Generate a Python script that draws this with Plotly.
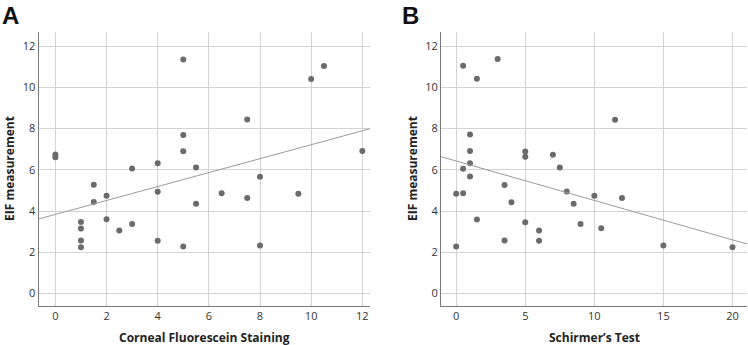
import numpy as np
import plotly.graph_objects as go

# Panel A: Corneal Fluorescein Staining vs EIF
cfs_x = [0, 0, 1, 1, 1, 1, 1.5, 1.5, 2, 2, 2.5, 3, 3, 4, 4, 4, 5, 5, 5, 5,
         5.5, 5.5, 6.5, 7.5, 7.5, 8, 8, 9.5, 10, 10.5, 12]
cfs_y = [6.74, 6.61, 3.47, 3.16, 2.57, 2.25, 5.28, 4.44, 4.74, 3.60, 3.06, 6.06, 3.38,
         6.32, 4.94, 2.56, 11.35, 7.69, 6.90, 2.28, 6.11, 4.36, 4.87, 8.44, 4.63,
         5.67, 2.33, 4.84, 10.40, 11.03, 6.91]

# Panel B: Schirmer's Test vs EIF
sch_x = [0, 0, 0.5, 0.5, 0.5, 1, 1, 1, 1, 1.5, 1.5, 3, 3.5, 3.5, 4, 5, 5, 5, 6, 6,
         7, 7.5, 8, 8.5, 9, 10, 10.5, 11.5, 12, 15, 20]
sch_y = [4.84, 2.28, 11.05, 6.05, 4.87, 7.71, 6.91, 6.32, 5.68, 10.42, 3.59, 11.37,
         5.27, 2.57, 4.43, 6.89, 6.63, 3.46, 3.06, 2.56, 6.73, 6.11, 4.95, 4.35,
         3.38, 4.74, 3.17, 8.43, 4.63, 2.33, 2.25]

y_ticks = [0, 2, 4, 6, 8, 10, 12]
a_xticks = [0, 2, 4, 6, 8, 10, 12]
b_xticks = [0, 5, 10, 15, 20]

a_range = [-0.66, 12.3]
b_range = [-1.1, 21.05]
y_range = [-0.6, 12.68]

DOT = "#6b6b6b"
LINE = "#9a9a9a"
GRID = "#d3d3d3"
AXIS = "#7a7a7a"
FONT = "Open Sans"

fig = go.Figure()

def add_panel(x, y, xr, xa, ya):
    fig.add_trace(go.Scatter(x=x, y=y, mode="markers", xaxis=xa, yaxis=ya,
                             marker=dict(color=DOT, size=6), showlegend=False))
    k, b = np.polyfit(x, y, 1)
    lx = np.array(xr)
    fig.add_trace(go.Scatter(x=lx, y=k * lx + b, mode="lines", xaxis=xa, yaxis=ya,
                             line=dict(color=LINE, width=1), showlegend=False))

add_panel(cfs_x, cfs_y, a_range, "x", "y")
add_panel(sch_x, sch_y, b_range, "x2", "y2")

ax_common = dict(showgrid=True, gridcolor=GRID, gridwidth=1, zeroline=False,
                 showline=True, linecolor=AXIS, linewidth=1, ticks="",
                 tickfont=dict(family=FONT, size=11, color="#333333"))

y0, y1 = 1 - 306 / 345, 1 - 32 / 345
fig.update_layout(
    width=748, height=345,
    margin=dict(l=0, r=0, t=0, b=0),
    paper_bgcolor="white", plot_bgcolor="white",
    xaxis=dict(domain=[38.5 / 748, 370 / 748], range=a_range, tickvals=a_xticks,
               anchor="y", **ax_common),
    yaxis=dict(domain=[y0, y1], range=y_range, tickvals=y_ticks, anchor="x",
               **ax_common),
    xaxis2=dict(domain=[441 / 748, 747 / 748], range=b_range, tickvals=b_xticks,
                anchor="y2", **ax_common),
    yaxis2=dict(domain=[y0, y1], range=y_range, tickvals=y_ticks, anchor="x2",
                **ax_common),
)

title_font = dict(family=FONT, size=12, color="#222222")
ann = [
    dict(text="<b>A</b>", x=0 / 748, y=1.0, xanchor="left", yanchor="top",
         font=dict(family="Liberation Sans", size=24, color="#111111")),
    dict(text="<b>B</b>", x=400 / 748, y=1.0, xanchor="left", yanchor="top",
         font=dict(family="Liberation Sans", size=24, color="#111111")),
    dict(text="<b>Corneal Fluorescein Staining</b>", x=(38.5 + 370) / 2 / 748,
         y=1 - 337 / 345, xanchor="center", yanchor="middle", font=title_font),
    dict(text="<b>Schirmer’s Test</b>", x=(441 + 747) / 2 / 748,
         y=1 - 337 / 345, xanchor="center", yanchor="middle", font=title_font),
    dict(text="<b>EIF measurement</b>", x=9 / 748, y=(y0 + y1) / 2,
         xanchor="center", yanchor="middle", textangle=-90, font=title_font),
    dict(text="<b>EIF measurement</b>", x=412 / 748, y=(y0 + y1) / 2,
         xanchor="center", yanchor="middle", textangle=-90, font=title_font),
]
for a in ann:
    a.update(xref="paper", yref="paper", showarrow=False)
fig.update_layout(annotations=ann)

fig.write_html("out.html", config={"displayModeBar": False},
               post_script="document.body.style.margin='0';document.body.style.overflow='hidden';")
